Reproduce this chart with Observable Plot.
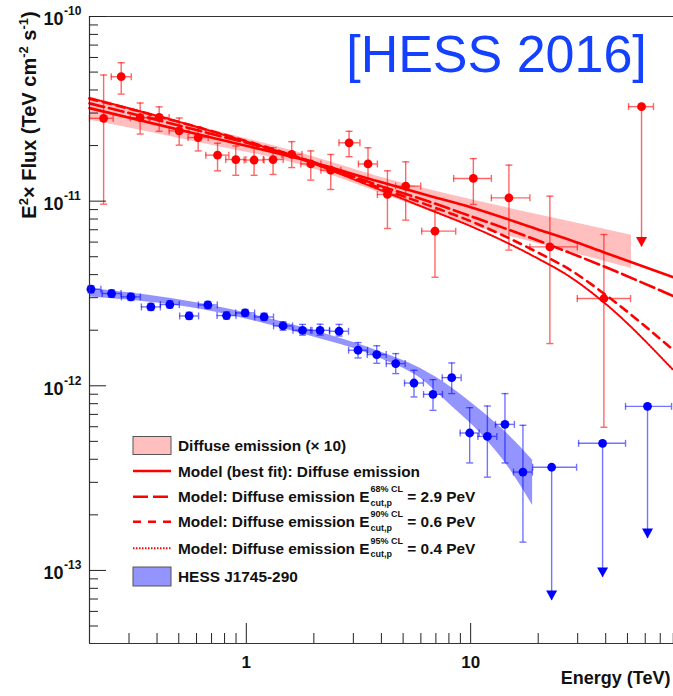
<!DOCTYPE html>
<html><head><meta charset="utf-8">
<script src="https://cdn.jsdelivr.net/npm/d3@7"></script>
<script src="https://cdn.jsdelivr.net/npm/@observablehq/plot@0.6"></script>
<style>
html,body{margin:0;padding:0;background:#fff;overflow:hidden;}
#chart{width:673px;height:696px;}
#chart svg{overflow:hidden;display:block;}
</style></head><body><div id="chart"></div>
<script>
const FONT = "'Liberation Sans', Arial, Helvetica, sans-serif";

// ---- Diffuse emission (x10) data points ----
const redE   = [0.2312,0.2769,0.3364,0.4089,0.502,0.6099,0.7444,0.8979,1.083,1.316,1.594,1.938,2.379,2.871,3.487,4.256,5.134,6.934,10.28,14.81,22.55,39.26];
const redF   = [2.81e-11,4.72e-11,2.83e-11,2.84e-11,2.40e-11,2.21e-11,1.775e-11,1.68e-11,1.67e-11,1.68e-11,1.79e-11,1.59e-11,1.47e-11,2.07e-11,1.59e-11,1.087e-11,1.206e-11,6.88e-12,1.327e-11,1.042e-11,5.65e-12,2.97e-12];
const redHi  = [4.82e-11,5.62e-11,3.40e-11,3.24e-11,2.82e-11,2.53e-11,2.06e-11,1.99e-11,1.94e-11,1.945e-11,2.10e-11,1.87e-11,1.79e-11,2.39e-11,1.945e-11,1.46e-11,1.633e-11,8.94e-12,1.70e-11,1.567e-11,1.064e-11,6.60e-12];
const redLo  = [9.63e-12,3.80e-11,2.31e-11,2.39e-11,2.01e-11,1.87e-11,1.46e-11,1.38e-11,1.38e-11,1.395e-11,1.52e-11,1.30e-11,1.157e-11,1.74e-11,1.315e-11,7.11e-12,7.89e-12,3.87e-12,9.60e-12,5.43e-12,1.693e-12,5.96e-13];
const redELo = [0.2,0.250,0.304,0.369,0.453,0.550,0.660,0.81,0.978,1.19,1.44,1.75,2.15,2.59,3.16,3.84,4.63,6.05,8.40,12.37,18.37,29.88];
const redEHi = [0.255,0.307,0.373,0.453,0.556,0.676,0.836,0.995,1.2,1.46,1.77,2.15,2.64,3.21,3.84,4.72,5.99,8.58,12.37,18.37,29.88,51.6];
// upper limit
const redUlE = [57.77], redUlF = [3.25e-11], redUlTip = [5.65e-12], redUlELo = [50.56], redUlEHi = [65.3];

// ---- HESS J1745-290 data points ----
const blueE   = [0.2030,0.2509,0.3059,0.3755,0.4562,0.5561,0.6739,0.8162,0.9878,1.200,1.458,1.780,2.132,2.591,3.148,3.814,4.634,5.589,6.795,8.231,9.90,11.87,14.22,17.10];
const blueF   = [3.334e-12,3.160e-12,3.03e-12,2.674e-12,2.755e-12,2.389e-12,2.741e-12,2.401e-12,2.480e-12,2.359e-12,2.109e-12,1.998e-12,1.998e-12,1.974e-12,1.558e-12,1.476e-12,1.319e-12,1.035e-12,8.99e-13,1.107e-12,5.55e-13,5.32e-13,6.18e-13,3.41e-13];
const blueHi  = [3.48e-12,3.30e-12,3.17e-12,2.79e-12,2.88e-12,2.50e-12,2.86e-12,2.51e-12,2.59e-12,2.47e-12,2.22e-12,2.15e-12,2.155e-12,2.15e-12,1.714e-12,1.647e-12,1.494e-12,1.213e-12,1.080e-12,1.329e-12,7.61e-13,7.77e-13,9.07e-13,6.11e-13];
const blueLo  = [3.19e-12,3.02e-12,2.90e-12,2.56e-12,2.64e-12,2.29e-12,2.62e-12,2.30e-12,2.38e-12,2.26e-12,2.00e-12,1.88e-12,1.88e-12,1.86e-12,1.415e-12,1.324e-12,1.164e-12,8.70e-13,7.36e-13,9.07e-13,3.82e-13,3.20e-13,3.82e-13,1.423e-13];
const blueELo = [0.2,0.2277,0.2776,0.3407,0.4140,0.5046,0.6115,0.7407,0.8964,1.089,1.323,1.615,1.935,2.351,2.857,3.461,4.205,5.072,6.166,7.469,8.98,10.77,12.90,15.52];
const blueEHi = [0.2249,0.2765,0.3371,0.4138,0.5027,0.6128,0.7426,0.8995,1.0886,1.322,1.607,1.962,2.349,2.855,3.469,4.203,5.107,6.159,7.488,9.071,10.91,13.08,15.67,18.84];
// upper limits
const blueUlE = [22.96,38.73,61.43], blueUlF = [3.62e-13,4.88e-13,7.74e-13], blueUlTip = [6.88e-14,9.17e-14,1.491e-13];
const blueUlELo = [18.89,30.28,49.02], blueUlEHi = [29.66,49.02,78.6];

// ---- bands ----
const redBandE  = [0.2,0.627,1.749,3.973,10,27.9,52.1];
const redBandHi = [3.674e-11,2.518e-11,1.820e-11,1.349e-11,1.021e-11,7.73e-12,6.54e-12];
const redBandLo = [2.748e-11,2.063e-11,1.567e-11,1.105e-11,7.41e-12,5.29e-12,4.32e-12];
const blueBandE  = [0.2,0.627,1.749,3.973,5.989,8.145,11.08,15.08,18.89];
const blueBandHi = [3.377e-12,2.790e-12,2.083e-12,1.525e-12,1.239e-12,9.85e-13,7.36e-13,5.28e-13,3.95e-13];
const blueBandLo = [3.03e-12,2.598e-12,1.918e-12,1.404e-12,1.094e-12,7.84e-13,5.51e-13,3.48e-13,2.25e-13];

// ---- model curves ----
const modelE    = [0.2,0.627,1.749,3.973,6.634,10.0,19.8,27.9,39.1,80.2];
const modelBest = [3.19e-11,2.279e-11,1.689e-11,1.268e-11,1.064e-11,9.28e-12,7.05e-12,6.14e-12,5.29e-12,3.87e-12];
const model29   = [3.385e-11,2.395e-11,1.710e-11,1.206e-11,9.88e-12,8.29e-12,6.14e-12,5.23e-12,4.44e-12,3.055e-12];
const model06   = [3.59e-11,2.487e-11,1.710e-11,1.176e-11,9.40e-12,7.79e-12,5.29e-12,4.23e-12,3.17e-12,1.558e-12];
const model04   = [3.62e-11,2.487e-11,1.689e-11,1.147e-11,8.94e-12,7.32e-12,4.91e-12,3.87e-12,2.84e-12,1.213e-12];

// ---- axes ----
const yMin = 4.02e-14, yMax = 1e-10;
const yMajor = [1e-13,1e-12,1e-11,1e-10];
const yExp = ["-13","-12","-11","-10"];
const xMajor = [1,10];
const xLabels = ["1","10"];
const yMinor = [], xMinor = [];
for (let d = -14; d <= -11; d++) for (let m = 2; m <= 9; m++) { const v = m * Math.pow(10, d); if (v > yMin && v < yMax) yMinor.push(v); }
for (let d = -1; d <= 1; d++) for (let m = 2; m <= 9; m++) { const v = m * Math.pow(10, d); if (v > 0.21 && v < 100) xMinor.push(v); }

// ---- legend ----
const legendLabels = ["Diffuse emission (\u00d7 10)","Model (best fit): Diffuse emission","Model: Diffuse emission E","Model: Diffuse emission E","Model: Diffuse emission E","HESS J1745-290"];
const legendSup = [null,null,"68% CL","90% CL","95% CL",null];
const legendTail = [null,null," = 2.9 PeV"," = 0.6 PeV"," = 0.4 PeV",null];

const red = redE.map((E,i)=>({E,F:redF[i],lo:redLo[i],hi:redHi[i],eLo:redELo[i],eHi:redEHi[i]}));
const blue = blueE.map((E,i)=>({E,F:blueF[i],lo:blueLo[i],hi:blueHi[i],eLo:blueELo[i],eHi:blueEHi[i]}));
const redUL = redUlE.map((E,i)=>({E,F:redUlF[i],tip:redUlTip[i],eLo:redUlELo[i],eHi:redUlEHi[i]}));
const blueUL = blueUlE.map((E,i)=>({E,F:blueUlF[i],tip:blueUlTip[i],eLo:blueUlELo[i],eHi:blueUlEHi[i]}));
const redBand = redBandE.map((E,i)=>({E,lo:redBandLo[i],hi:redBandHi[i]}));
const blueBand = blueBandE.map((E,i)=>({E,lo:blueBandLo[i],hi:blueBandHi[i]}));
const mk = arr => modelE.map((E,i)=>({E,F:arr[i]}));

const capH = {draw(ctx,size){const r=Math.sqrt(size/Math.PI);ctx.moveTo(-r,0);ctx.lineTo(r,0);}};
const capV = {draw(ctx,size){const r=Math.sqrt(size/Math.PI);ctx.moveTo(0,-r);ctx.lineTo(0,r);}};
const triDown = {draw(ctx,size){const r=Math.sqrt(size/Math.PI);ctx.moveTo(-r,-r*1.8);ctx.lineTo(r,-r*1.8);ctx.lineTo(0,0);ctx.closePath();}};

const RED="#ff0000", BLUE="#0000ff";
function errMarks(data, color, op){
  const s = {stroke:color, strokeOpacity:op, strokeWidth:1.4};
  return [
    Plot.ruleX(data,{x:"E",y1:"lo",y2:"hi",...s}),
    Plot.ruleY(data,{y:"F",x1:"eLo",x2:"eHi",...s}),
    Plot.dot(data,{x:"E",y:"hi",symbol:capH,r:3.5,fill:"none",...s}),
    Plot.dot(data,{x:"E",y:"lo",symbol:capH,r:3.5,fill:"none",...s}),
    Plot.dot(data,{x:"eLo",y:"F",symbol:capV,r:3.5,fill:"none",...s}),
    Plot.dot(data,{x:"eHi",y:"F",symbol:capV,r:3.5,fill:"none",...s})
  ];
}
function ulMarks(data, color, op){
  const s = {stroke:color, strokeOpacity:op, strokeWidth:1.4};
  return [
    Plot.ruleX(data,{x:"E",y1:"F",y2:"tip",...s}),
    Plot.ruleY(data,{y:"F",x1:"eLo",x2:"eHi",...s}),
    Plot.dot(data,{x:"eLo",y:"F",symbol:capV,r:3.5,fill:"none",...s}),
    Plot.dot(data,{x:"eHi",y:"F",symbol:capV,r:3.5,fill:"none",...s}),
    Plot.dot(data,{x:"E",y:"tip",symbol:triDown,r:5.5,fill:color,stroke:"none"}),
    Plot.dot(data,{x:"E",y:"F",r:4.4,fill:color,stroke:"none"})
  ];
}

const W=673,H=696,ML=89,MT=16,MB=53;
const plot = Plot.plot({
  width:W, height:H, marginLeft:ML, marginRight:0, marginTop:MT, marginBottom:MB,
  style:{fontFamily:FONT, background:"#fff", overflow:"hidden"},
  x:{type:"log", domain:[0.2,100], range:[89,694.5], axis:null},
  y:{type:"log", domain:[yMin,yMax], axis:null},
  marks:[
    Plot.areaY(redBand,{x:"E",y1:"lo",y2:"hi",fill:RED,fillOpacity:0.25,curve:"monotone-x"}),
    Plot.areaY(blueBand,{x:"E",y1:"lo",y2:"hi",fill:BLUE,fillOpacity:0.42,curve:"monotone-x"}),
    Plot.line(mk(model04),{x:"E",y:"F",stroke:RED,strokeWidth:2,strokeDasharray:"1.5,1.5",curve:"monotone-x"}),
    Plot.line(mk(model06),{x:"E",y:"F",stroke:RED,strokeWidth:2.6,strokeDasharray:"8,6",curve:"monotone-x"}),
    Plot.line(mk(model29),{x:"E",y:"F",stroke:RED,strokeWidth:2.6,strokeDasharray:"15,5",curve:"monotone-x"}),
    Plot.line(mk(modelBest),{x:"E",y:"F",stroke:RED,strokeWidth:2.6,curve:"monotone-x"}),
    ...errMarks(red, RED, 0.6),
    ...errMarks(blue, BLUE, 0.55),
    Plot.dot(red,{x:"E",y:"F",r:4.4,fill:RED}),
    Plot.dot(blue,{x:"E",y:"F",r:4.4,fill:BLUE}),
    ...ulMarks(redUL, RED, 0.6),
    ...ulMarks(blueUL, BLUE, 0.55),
    // frame
    Plot.ruleX([0.2],{stroke:"#333",strokeWidth:1.2}),
    Plot.ruleY([yMin,yMax],{stroke:"#333",strokeWidth:1.2}),
    // ticks
    Plot.tickY(yMajor,{y:d=>d,insetRight:W-ML-17,stroke:"#222"}),
    Plot.tickY(yMinor,{y:d=>d,insetRight:W-ML-9,stroke:"#222"}),
    Plot.tickX(xMajor,{x:d=>d,insetTop:(H-MB-MT)-20,stroke:"#222"}),
    Plot.tickX(xMinor,{x:d=>d,insetTop:(H-MB-MT)-10,stroke:"#222"}),
    // tick labels
    Plot.text(yMajor,{y:d=>d,frameAnchor:"left",text:()=>"10",textAnchor:"end",dx:-26,dy:3,fontSize:18,fontWeight:"bold",fill:"#111"}),
    Plot.text(yMajor,{y:d=>d,frameAnchor:"left",text:(d,i)=>yExp[i],textAnchor:"start",dx:-25.5,dy:-5,fontSize:12,fontWeight:"bold",fill:"#111"}),
    Plot.text(xMajor,{x:d=>d,frameAnchor:"bottom",text:(d,i)=>xLabels[i],dy:24,fontSize:17,fontWeight:"bold",fill:"#111"}),
    Plot.text(["Energy (TeV)"],{frameAnchor:"bottom-right",text:d=>d,textAnchor:"end",dx:-3,dy:40,fontSize:18,fontWeight:"bold",fill:"#111"})
  ]
});
document.getElementById("chart").append(plot);

const svg = d3.select(plot);
// y axis title
const yt = svg.append("text").attr("transform","translate(36,115) rotate(-90)").attr("text-anchor","middle")
  .attr("font-family",FONT).attr("font-size",20).attr("font-weight","bold").attr("fill","#111");
yt.append("tspan").text("E");
yt.append("tspan").attr("dy",-8).attr("font-size",13).text("2");
yt.append("tspan").attr("dy",8).text("\u00d7 Flux (TeV cm");
yt.append("tspan").attr("dy",-8).attr("font-size",13).text("-2");
yt.append("tspan").attr("dy",8).text(" s");
yt.append("tspan").attr("dy",-8).attr("font-size",13).text("-1");
yt.append("tspan").attr("dy",8).text(")");

// title
svg.append("text").attr("x",496.5).attr("y",72).attr("text-anchor","middle").attr("font-family",FONT)
  .attr("font-size",52).attr("fill","#1440ff").text("[HESS 2016]");

// legend
const rowsY = [445.5,471,496.7,521.7,548.3,576.5];
const lg = svg.append("g").attr("font-family",FONT).attr("font-weight","bold").attr("font-size",15.4)
  .attr("fill","#111").attr("text-anchor","start");
lg.append("rect").attr("x",133).attr("y",rowsY[0]-9).attr("width",38).attr("height",18).attr("fill","#ffbfbf").attr("stroke","#555");
lg.append("rect").attr("x",133).attr("y",rowsY[5]-9.5).attr("width",38).attr("height",19).attr("fill","#9494ff").attr("stroke","#555");
const dashes = [null,null,"15,5","8,7","1.5,1.5"];
for (let i=1;i<=4;i++){
  lg.append("line").attr("x1",133).attr("x2",171).attr("y1",rowsY[i]).attr("y2",rowsY[i])
    .attr("stroke",RED).attr("stroke-width",i===4?2:2.6).attr("stroke-dasharray",dashes[i]);
}
for (let i=0;i<6;i++){
  const t = lg.append("text").attr("x",178).attr("y",rowsY[i]+5.5).attr("text-anchor","start").text(legendLabels[i]);
  if (legendSup[i]) {
    const w = t.node().getComputedTextLength();
    const x0 = 178 + w + 1;
    const sp = lg.append("text").attr("x",x0).attr("y",rowsY[i]-4.5).attr("text-anchor","start").attr("font-size",9).text(legendSup[i]);
    const sb = lg.append("text").attr("x",x0).attr("y",rowsY[i]+9).attr("text-anchor","start").attr("font-size",9).text("cut,p");
    const ww = Math.max(sp.node().getComputedTextLength(), sb.node().getComputedTextLength());
    lg.append("text").attr("x",x0+ww).attr("y",rowsY[i]+5.5).attr("text-anchor","start").style("white-space","pre").text(legendTail[i]);
  }
}
</script></body></html>
